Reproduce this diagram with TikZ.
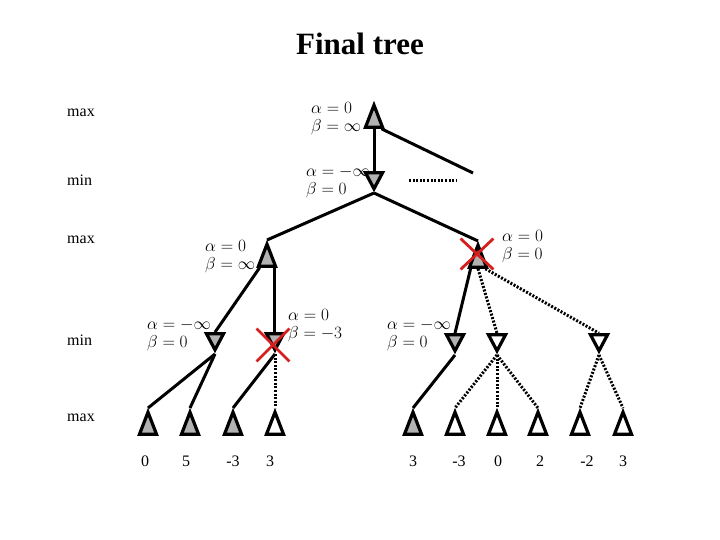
\documentclass[tikz,border=0pt]{standalone}
\usepackage{fontspec}
\setmainfont{Liberation Serif}
\usetikzlibrary{shapes.geometric,shapes.misc}
\definecolor{nodegray}{RGB}{178,178,178}
\definecolor{cutred}{RGB}{214,30,30}

\begin{document}
\begin{tikzpicture}[x=1pt, y=-1pt,
    tri/.style={isosceles triangle, isosceles triangle stretches, draw, line width=3.2pt,
                inner sep=0pt, minimum width=17pt, fill=nodegray},
    maxtri/.style={tri, shape border rotate=90, minimum height=22pt, anchor=apex},
    mintri/.style={tri, shape border rotate=270, minimum height=16pt, anchor=apex},
    link/.style={line width=3pt},
    dotlink/.style={line width=3pt, dash pattern=on 2pt off 1.6pt},
    ablabel/.style={align=left, anchor=west, inner sep=0pt, font=\fontsize{16}{18}\selectfont},
    plylabel/.style={anchor=west, inner sep=0pt, font=\fontsize{16}{18}\selectfont},
    leafval/.style={inner sep=0pt, font=\fontsize{16}{18}\selectfont},
    cutmark/.style={cross out, draw=cutred, line width=2.8pt, inner sep=0pt}]
    \useasboundingbox (0,0) rectangle (720,540);
    \node[font=\bfseries\fontsize{31}{33}\selectfont] (title) at (360,44) {Final tree};
    % ── ply names ─────────────────────────────────────────
    \node[plylabel] (p1) at (67,113) {max};
    \node[plylabel] (p2) at (67,180) {min};
    \node[plylabel] (p3) at (67,240) {max};
    \node[plylabel] (p4) at (67,340) {min};
    \node[plylabel] (p5) at (67,418) {max};
    % ── inner nodes ───────────────────────────────────────
    \node[maxtri] (root) at (374,101) {};
    \node[mintri] (mn)   at (374,193) {};
    \node[maxtri] (lmax) at (267,240) {};
    \node[maxtri] (rmax) at (478,241) {};
    \node[mintri] (mA) at (215,354) {};
    \node[mintri] (mB) at (275,354) {};
    \node[mintri] (mC) at (455,355) {};
    \node[mintri, fill=white] (mD) at (497,355) {};
    \node[mintri, fill=white] (mE) at (599,355) {};
    % ── leaves and their values ───────────────────────────
    \foreach \x/\f [count=\i] in {148/nodegray, 190/nodegray, 233/nodegray, 275/white,
        413/nodegray, 455/white, 497/white, 538/white, 580/white, 623/white}
        \node[maxtri, fill=\f] (l\i) at (\x,408) {};
    \foreach \x/\v [count=\i] in {145/0, 186/5, 233/-3, 270/3,
        413/3, 459/-3, 498/0, 540/2, 587/-2, 623/3}
        \node[leafval] (v\i) at (\x,461) {\v};
    % ── alpha / beta ──────────────────────────────────────
    \node[ablabel] (abroot) at (311,119) {$\alpha=0$\\ $\beta=\infty$};
    \node[ablabel] (abmn)   at (306,182) {$\alpha=-\infty$\\ $\beta=0$};
    \node[ablabel] (ablmax) at (205,257) {$\alpha=0$\\ $\beta=\infty$};
    \node[ablabel] (abrmax) at (502,247) {$\alpha=0$\\ $\beta=0$};
    \node[ablabel] (abA)    at (147,335) {$\alpha=-\infty$\\ $\beta=0$};
    \node[ablabel] (abB)    at (288,326) {$\alpha=0$\\ $\beta=-3$};
    \node[ablabel] (abC)    at (387,335) {$\alpha=-\infty$\\ $\beta=0$};
    % ── edges ─────────────────────────────────────────────
    \coordinate (stub) at (473,173);
    \coordinate (dotL) at (409,181);
    \coordinate (dotR) at (456,181);
    \draw[link] (root.south) -- (mn.north);
    \draw[link] (root.south east) -- (stub);
    \draw[dotlink] (dotL) -- (dotR);
    \draw[link] (mn.apex) -- (lmax.apex);
    \draw[link] (mn.apex) -- (rmax.apex);
    \draw[link] (lmax.south west) -- (mA.north);
    \draw[link] (lmax.south east) -- (lmax.south east |- mB.north);
    \draw[link] (rmax.south west) -- (mC.north);
    \draw[dotlink] (rmax.south) -- (mD.north);
    \draw[dotlink] (rmax.south east) -- (mE.north);
    \draw[link] (mA.apex) -- (l1.apex);
    \draw[link] (mA.apex) -- (l2.apex);
    \draw[link] (mB.apex) -- (l3.apex);
    \draw[dotlink] (mB.apex) -- (l4.apex);
    \draw[link] (mC.apex) -- (l5.apex);
    \foreach \j in {6,7,8} \draw[dotlink] (mD.apex) -- (l\j.apex);
    \foreach \j in {9,10} \draw[dotlink] (mE.apex) -- (l\j.apex);
    % ── pruned ────────────────────────────────────────────
    \node[cutmark, minimum width=30pt, minimum height=28pt] (xr) at (477,254) {};
    \node[cutmark, minimum width=30pt, minimum height=30pt] (xb) at (273,345) {};
\end{tikzpicture}
\end{document}
